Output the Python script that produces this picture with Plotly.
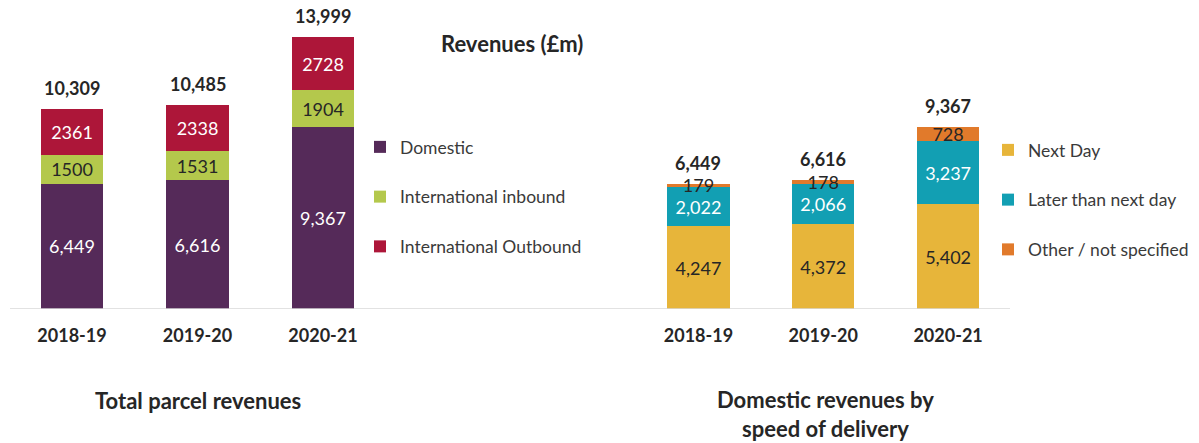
import plotly.graph_objects as go

# Data (GBP million)
years = ["2018-19", "2019-20", "2020-21"]

domestic = [6449, 6616, 9367]
intl_inbound = [1500, 1531, 1904]
intl_outbound = [2361, 2338, 2728]
total_parcel = [10309, 10485, 13999]

next_day = [4247, 4372, 5402]
later_than_next = [2022, 2066, 3237]
other_unspecified = [179, 178, 728]
total_domestic = [6449, 6616, 9367]

W, H = 1199, 443
BASE = 309  # plot bottom in px
FONT = "Lato"
DARK = "#262626"


def px(x):
    return x / W


def py(y):
    return (BASE - y) / BASE


fig = go.Figure()

left = [
    ("Domestic", domestic, "#552a59", "white", "%{y:,}"),
    ("International inbound", intl_inbound, "#b4c84c", DARK, "%{y:d}"),
    ("International Outbound", intl_outbound, "#ad1639", "white", "%{y:d}"),
]
for name, vals, col, tcol, tmpl in left:
    fig.add_trace(go.Bar(
        x=years, y=vals, name=name, marker_color=col, marker_line_width=0,
        texttemplate=tmpl, textposition="inside", insidetextanchor="middle",
        textangle=0, constraintext="none",
        textfont=dict(family=FONT, size=18, color=tcol),
        legend="legend", legendgroup=name,
        xaxis="x", yaxis="y", hoverinfo="skip",
    ))

right = [
    ("Next Day", next_day, "#e7b53a", DARK),
    ("Later than next day", later_than_next, "#129fb3", "white"),
    ("Other / not specified", other_unspecified, "#e17a2b", DARK),
]
for name, vals, col, tcol in right:
    fig.add_trace(go.Bar(
        x=years, y=vals, name=name, marker_color=col, marker_line_width=0,
        texttemplate="%{y:,}", textposition="inside", insidetextanchor="middle",
        textangle=0, constraintext="none",
        textfont=dict(family=FONT, size=18, color=tcol),
        legend="legend2", legendgroup=name,
        xaxis="x2", yaxis="y", hoverinfo="skip",
    ))

# totals above the stacks
for xa, totals in (("x", total_parcel), ("x2", total_domestic)):
    for yr, t in zip(years, totals):
        fig.add_annotation(
            x=yr, y=t, xref=xa, yref="y", text=f"<b>{t:,}</b>",
            showarrow=False, yanchor="bottom", yshift=8,
            font=dict(family=FONT, size=18, color=DARK),
        )

# shared baseline
fig.add_shape(type="line", xref="paper", yref="y",
              x0=px(10), x1=px(1010), y0=0, y1=0,
              line=dict(color="#d9d9d9", width=1.5))

titles = [
    (512, 43, "<b>Revenues (£m)</b>"),
    (198, 400, "<b>Total parcel revenues</b>"),
    (825, 414, "<b>Domestic revenues by<br>speed of delivery</b>"),
]
for x, y, txt in titles:
    fig.add_annotation(x=px(x), y=py(y), xref="paper", yref="paper",
                       xanchor="center", yanchor="middle",
                       text=txt, showarrow=False,
                       font=dict(family=FONT, size=22, color=DARK))

axis_common = dict(
    type="category", range=[-0.5, 2.5], showgrid=False, zeroline=False,
    showline=False, ticks="outside", ticklen=10, tickcolor="rgba(0,0,0,0)",
    tickfont=dict(family=FONT, size=18, color=DARK),
    fixedrange=True,
)
legend_common = dict(
    font=dict(family=FONT, size=17.5, color="#3a3a3a"),
    traceorder="grouped", tracegroupgap=24, bgcolor="rgba(0,0,0,0)",
    xanchor="left", yanchor="top",
)

fig.update_layout(
    width=W, height=H,
    margin=dict(l=0, r=0, t=0, b=H - BASE, autoexpand=False),
    paper_bgcolor="white", plot_bgcolor="white",
    barmode="stack", bargap=0.5,
    showlegend=True,
    xaxis=dict(domain=[px(9.25), px(385.75)], anchor="y",
               tickvals=years, ticktext=[f"<b>{y}</b>" for y in years],
               **axis_common),
    xaxis2=dict(domain=[px(636), px(1010.5)], anchor="y",
                tickvals=years, ticktext=[f"<b>{y}</b>" for y in years],
                **axis_common),
    yaxis=dict(range=[0, BASE / 0.01943], visible=False, fixedrange=True),
    legend=dict(x=px(360), y=py(129), **legend_common),
    legend2=dict(x=px(988), y=py(132), **legend_common),
)

# drop the default 8px page margin so the figure sits at the window corner
fig.write_html("out.html", config={"displayModeBar": False},
               post_script="document.body.style.margin = '0';")
